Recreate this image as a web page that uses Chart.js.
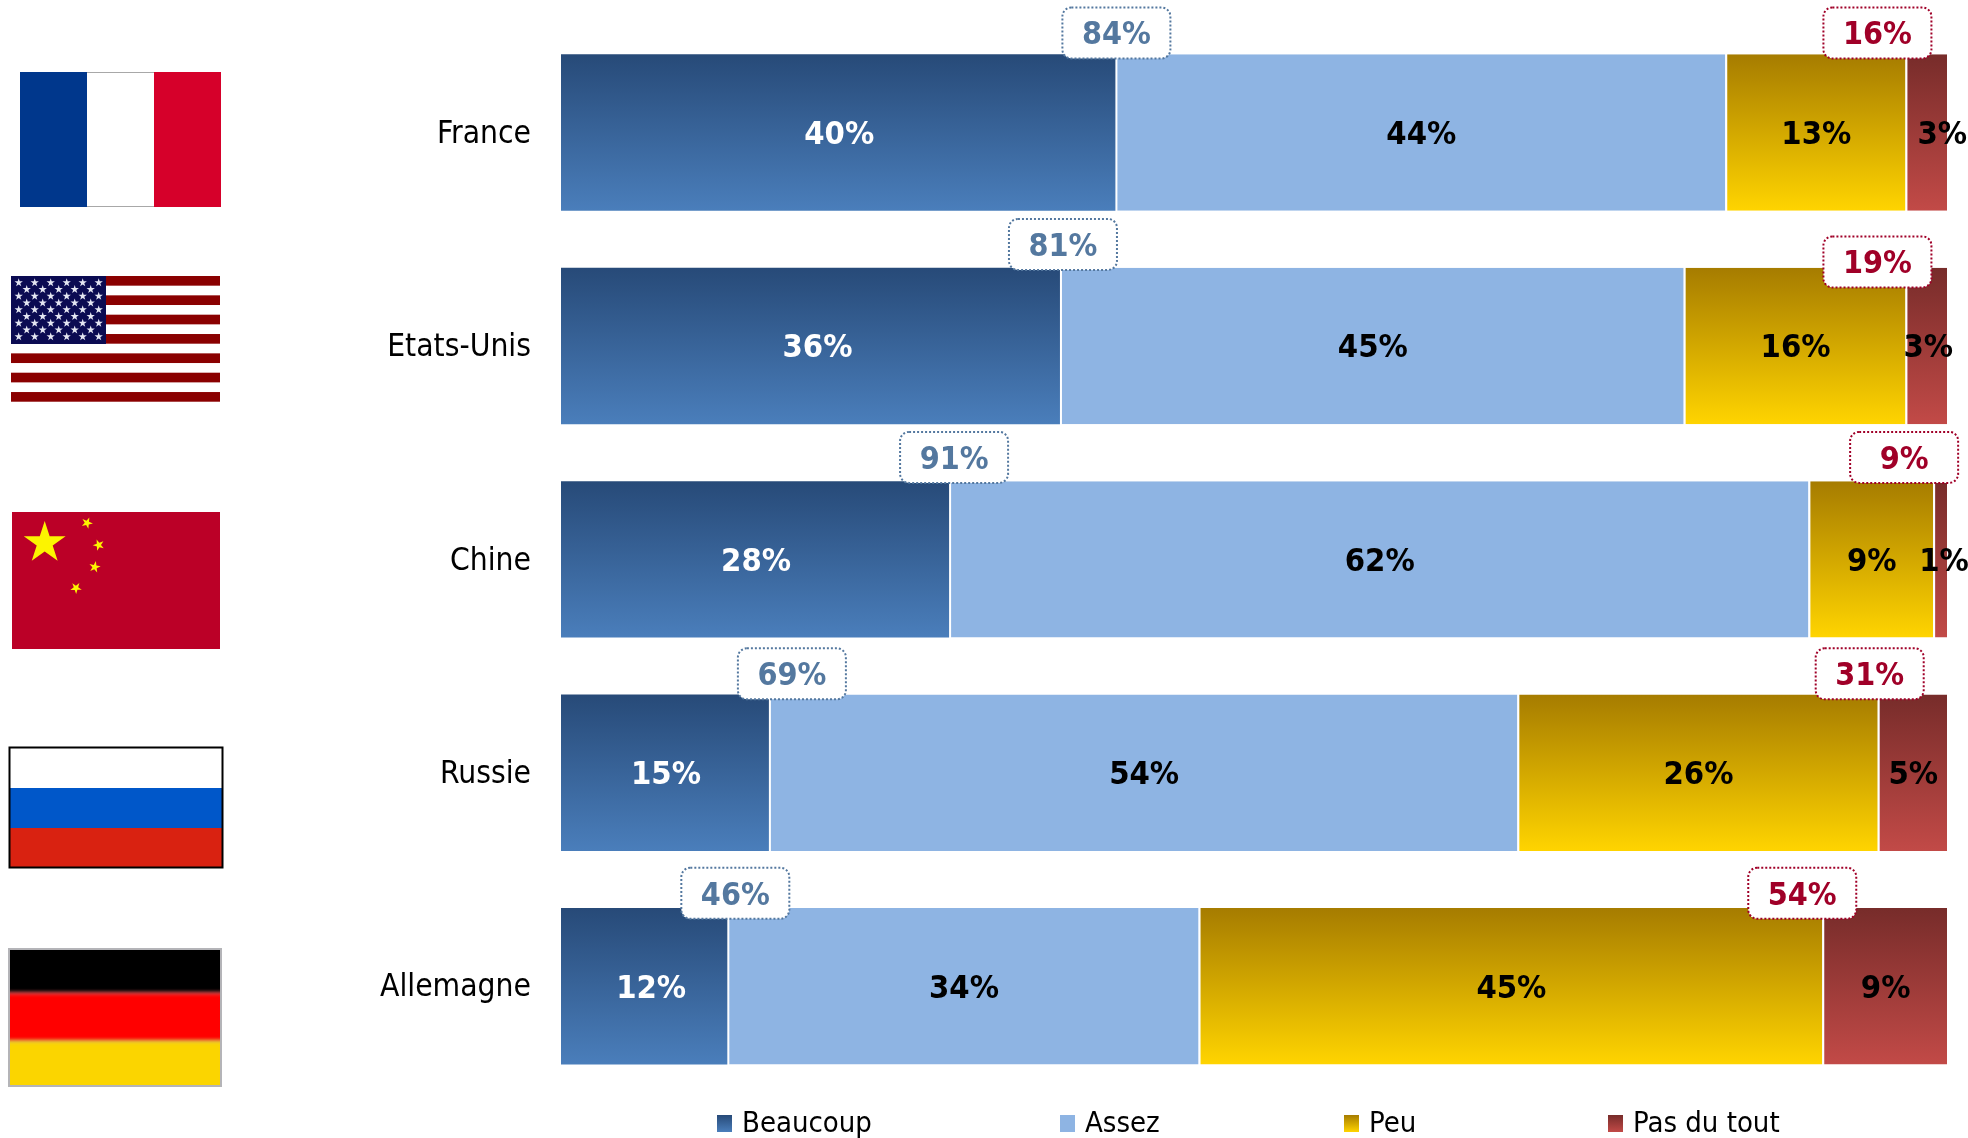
<!DOCTYPE html>
<html lang="fr">
<head>
<meta charset="utf-8">
<title>Beaucoup / Assez / Peu / Pas du tout</title>
<style>
  html, body { margin: 0; padding: 0; background: #fff; }
  canvas { display: block; }
</style>
<script src="https://cdn.jsdelivr.net/npm/chart.js@4/dist/chart.umd.min.js"></script>
</head>
<body>
<canvas id="chart" width="1968" height="1138"></canvas>
<script>
var countries  = ['France', 'Etats-Unis', 'Chine', 'Russie', 'Allemagne'];
var seriesName = ['Beaucoup', 'Assez', 'Peu', 'Pas du tout'];
var beaucoup   = [40, 36, 28, 15, 12];
var assez      = [44, 45, 62, 54, 34];
var peu        = [13, 16, 9, 26, 45];
var pasDuTout  = [3, 3, 1, 5, 9];
var totalPlus  = [84, 81, 91, 69, 46];
var totalMoins = [16, 19, 9, 31, 54];

var FONT = "'DejaVu Sans Condensed', 'DejaVu Sans', sans-serif";
var BAR_SHARE = 0.733;
var FILLS = [['#274a78', '#4a7ebb'], ['#8eb4e3', '#8eb4e3'], ['#a67c00', '#ffd400'], ['#772c2a', '#c24a47']];
var LABEL_COLORS = ['#ffffff', '#000000', '#000000', '#000000'];

function barFill(idx) {
  return function (ctx) {
    var chart = ctx.chart, y = chart.scales.y;
    if (!y || ctx.dataIndex === undefined) return FILLS[idx][0];
    var half = y.height / countries.length * BAR_SHARE / 2;
    var mid = y.getPixelForValue(ctx.dataIndex);
    // options get resolved once before the layout has run
    if (!isFinite(half) || !isFinite(mid)) return FILLS[idx][0];
    var g = chart.ctx.createLinearGradient(0, mid - half, 0, mid + half);
    g.addColorStop(0, FILLS[idx][0]);
    g.addColorStop(1, FILLS[idx][1]);
    return g;
  };
}

function makeDataset(idx, values) {
  return {
    label: seriesName[idx],
    data: values,
    backgroundColor: barFill(idx),
    borderColor: '#ffffff',
    borderWidth: idx > 0 ? { left: 2 } : 0,
    borderSkipped: false,
    barPercentage: 1,
    categoryPercentage: BAR_SHARE
  };
}

// labels inside the bars
var dataLabels = {
  id: 'dataLabels',
  afterDatasetsDraw: function (chart) {
    var c = chart.ctx;
    var nudge = { '0-1': 6, '0-4': 6, '3-0': 15, '3-1': 1, '3-2': 3 };
    c.save();
    c.font = 'bold 32.5px ' + FONT;
    c.textAlign = 'center';
    c.textBaseline = 'middle';
    chart.data.datasets.forEach(function (ds, d) {
      chart.getDatasetMeta(d).data.forEach(function (bar, i) {
        var mid = (bar.x + bar.base) / 2 + 1 + (nudge[d + '-' + i] || 0);
        c.fillStyle = LABEL_COLORS[d];
        c.fillText(ds.data[i] + '%', mid, bar.y + 3);
      });
    });
    c.restore();
  }
};

function callout(c, cx, cy, text, color) {
  var w = 108, h = 51, x = cx - w / 2, y = cy - h / 2;
  c.save();
  c.beginPath();
  c.roundRect(x, y, w, h, 9);
  c.fillStyle = '#ffffff';
  c.fill();
  c.setLineDash([2, 2]);
  c.lineWidth = 2;
  c.strokeStyle = color;
  c.stroke();
  c.setLineDash([]);
  c.fillStyle = color;
  c.font = 'bold 32px ' + FONT;
  c.textAlign = 'center';
  c.textBaseline = 'middle';
  c.fillText(text, cx, cy + 3);
  c.restore();
}

// dotted boxes with the two totals, placed by hand relative to the bars
var totals = {
  id: 'totals',
  afterDatasetsDraw: function (chart) {
    var x = chart.scales.x, y = chart.scales.y, c = chart.ctx;
    var blueDx = [1, 3, 5, 23, 8], redDx = [-28, -28, -29, -8, -20];
    var blueDy = [-99.5, -101.5, -102, -99, -93], redDy = [-99.5, -84, -102, -99, -93];
    countries.forEach(function (name, i) {
      var mid = y.getPixelForValue(i);
      var blueAt = x.getPixelForValue(beaucoup[i]);
      var redAt = x.getPixelForValue(beaucoup[i] + assez[i] + peu[i]);
      callout(c, blueAt + blueDx[i], mid + blueDy[i], totalPlus[i] + '%', '#54789f');
      callout(c, redAt + redDx[i], mid + redDy[i], totalMoins[i] + '%', '#a00028');
    });
  }
};

var legendRow = {
  id: 'legendRow',
  afterDraw: function (chart) {
    var c = chart.ctx;
    var xs = [717, 1060, 1344, 1608];
    c.save();
    c.textBaseline = 'middle';
    c.textAlign = 'left';
    c.font = '29px ' + FONT;
    seriesName.forEach(function (name, i) {
      var g = c.createLinearGradient(0, 1115, 0, 1132);
      g.addColorStop(0, FILLS[i][0]);
      g.addColorStop(1, FILLS[i][1]);
      c.fillStyle = g;
      c.fillRect(xs[i], 1115, 15, 17);
      c.fillStyle = '#000000';
      c.fillText(name, xs[i] + 25, 1124);
    });
    c.restore();
  }
};

function star(c, cx, cy, r, rot) {
  c.beginPath();
  for (var i = 0; i < 10; i++) {
    var a = rot - Math.PI / 2 + i * Math.PI / 5;
    var rr = i % 2 ? r * 0.382 : r;
    c.lineTo(cx + Math.cos(a) * rr, cy + Math.sin(a) * rr);
  }
  c.closePath();
  c.fill();
}

function drawFrance(c) {
  c.fillStyle = '#00378c'; c.fillRect(20, 72, 67, 135);
  c.fillStyle = '#ffffff'; c.fillRect(87, 72, 67, 135);
  c.fillStyle = '#d6002a'; c.fillRect(154, 72, 67, 135);
  c.strokeStyle = '#a8a8a8'; c.lineWidth = 1;
  c.beginPath(); c.moveTo(87, 72.5); c.lineTo(154, 72.5); c.moveTo(87, 206.5); c.lineTo(154, 206.5); c.stroke();
}

function drawUsa(c) {
  var top = 276, sh = 9.67, i, j;
  c.fillStyle = '#ffffff'; c.fillRect(11, top, 209, 124);
  c.fillStyle = '#8a0000';
  for (i = 0; i < 13; i += 2) c.fillRect(11, top + i * sh, 209, sh);
  c.fillStyle = '#0b0b52'; c.fillRect(11, top, 95, 68);
  c.fillStyle = '#e4e6f2';
  for (j = 0; j < 9; j++) {
    var odd = j % 2, n = odd ? 5 : 6;
    for (i = 0; i < n; i++) {
      star(c, 18.7 + (odd ? 8 : 0) + i * 16, top + 6.7 + j * 6.75, 4.4, 0);
    }
  }
}

function drawChina(c) {
  c.fillStyle = '#bb0027'; c.fillRect(12, 512, 208, 137);
  c.fillStyle = '#fcf400';
  star(c, 44.7, 543, 22, 0);
  star(c, 87, 523, 6, 0.4);
  star(c, 98.7, 545, 6, 0.9);
  star(c, 94.7, 567, 6, 0.2);
  star(c, 76, 588, 6, 0.6);
}

function drawRussia(c) {
  c.fillStyle = '#ffffff'; c.fillRect(9, 747, 214, 41);
  c.fillStyle = '#0057c9'; c.fillRect(9, 788, 214, 40);
  c.fillStyle = '#d92211'; c.fillRect(9, 828, 214, 40);
  c.strokeStyle = '#000000'; c.lineWidth = 2;
  c.strokeRect(9.5, 747.5, 213, 120);
}

function drawGermany(c) {
  c.fillStyle = '#b4b4b8'; c.fillRect(8, 948, 214, 139);
  c.save();
  c.beginPath(); c.rect(10, 950, 210, 135); c.clip();
  c.filter = 'blur(2px)';
  c.fillStyle = '#000000'; c.fillRect(4, 944, 222, 49);
  c.fillStyle = '#ff0000'; c.fillRect(4, 993, 222, 48);
  c.fillStyle = '#fbd500'; c.fillRect(4, 1041, 222, 50);
  c.restore();
}

var flags = {
  id: 'flags',
  afterDraw: function (chart) {
    var c = chart.ctx;
    c.save();
    drawFrance(c);
    drawUsa(c);
    drawChina(c);
    drawRussia(c);
    drawGermany(c);
    c.restore();
  }
};

new Chart(document.getElementById('chart'), {
  type: 'bar',
  data: {
    labels: countries,
    datasets: [
      makeDataset(0, beaucoup),
      makeDataset(1, assez),
      makeDataset(2, peu),
      makeDataset(3, pasDuTout)
    ]
  },
  options: {
    indexAxis: 'y',
    responsive: false,
    animation: false,
    layout: { padding: { top: 25.75, bottom: 45, left: 0, right: 21 } },
    plugins: { legend: { display: false }, tooltip: { enabled: false } },
    scales: {
      x: { stacked: true, min: 0, max: 100, display: false },
      y: {
        stacked: true,
        afterFit: function (scale) {
          scale.width = 561;
          scale.paddingTop = 0;
          scale.paddingBottom = 0;
        },
        grid: { display: false, drawTicks: false },
        border: { display: false },
        ticks: { color: '#000000', padding: 30, labelOffset: 2, font: { family: FONT, size: 31.5 } }
      }
    }
  },
  plugins: [dataLabels, totals, legendRow, flags]
});
</script>
</body>
</html>
